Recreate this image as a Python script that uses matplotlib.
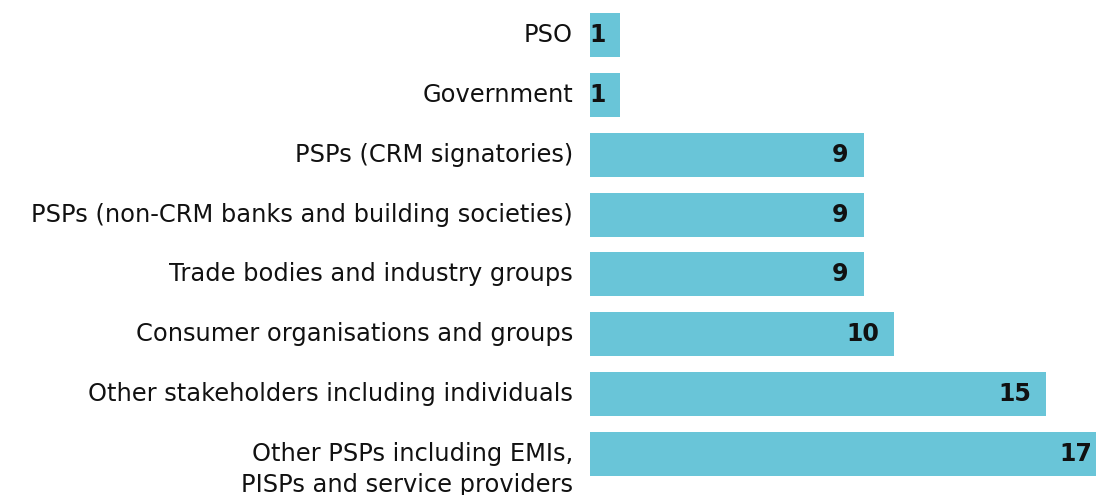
import matplotlib
matplotlib.use("Agg")
import matplotlib.pyplot as plt

categories = [
    "PSO",
    "Government",
    "PSPs (CRM signatories)",
    "PSPs (non-CRM banks and building societies)",
    "Trade bodies and industry groups",
    "Consumer organisations and groups",
    "Other stakeholders including individuals",
    "Other PSPs including EMIs,\nPISPs and service providers",
]
values = [1, 1, 9, 9, 9, 10, 15, 17]

plt.rcParams['font.family'] = ['DejaVu Sans']

fig = plt.figure(figsize=(10.96, 4.95), dpi=100)
ax = fig.add_axes([590 / 1096, 0, 506 / 1096, 1])

bar_color = "#69C5D8"
text_color = "#111111"
ypos = list(range(len(categories)))
ax.barh(ypos, values, height=0.735, color=bar_color, clip_on=True)

ax.set_xlim(0, 506 / 30.4)
ax.set_ylim((495 - 35) / 59.86, -35 / 59.86)
ax.axis("off")

for i, (cat, v) in enumerate(zip(categories, values)):
    for k, line in enumerate(cat.split("\n")):
        ax.annotate(line, xy=(0, i), xycoords=("axes fraction", "data"),
                    xytext=(-17, -31 * k), textcoords="offset pixels",
                    ha="right", va="center", fontsize=17.4, color=text_color,
                    annotation_clip=False)
    ax.annotate(str(v), xy=(v, i), xycoords="data",
                xytext=(-15, 0), textcoords="offset pixels",
                ha="right", va="center", fontsize=17, fontweight="bold",
                color=text_color, annotation_clip=False)

fig.savefig("out.png", dpi=100)
